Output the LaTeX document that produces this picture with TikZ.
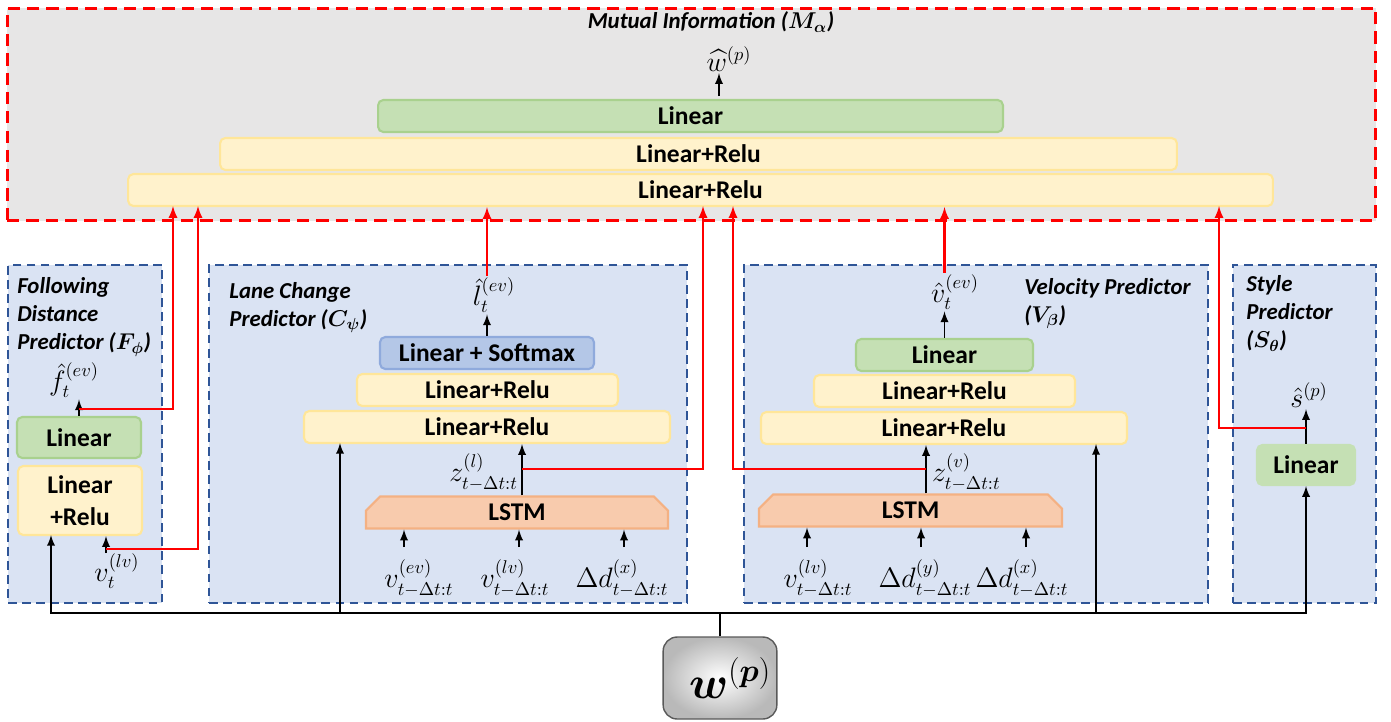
\RequirePackage{fix-cm}
\documentclass[tikz,border=0pt]{standalone}
\usepackage{amsmath}
\usepackage{fontspec}
\setmainfont{Carlito}
\usepackage{tikz}
\usetikzlibrary{shapes.misc, arrows, positioning, calc}
\DeclareMathSizes{16}{16}{10.5}{7.5}
\definecolor{migray}{HTML}{E7E6E6}
\definecolor{panelfill}{HTML}{DAE3F3}
\definecolor{paneldraw}{HTML}{2F5597}
\definecolor{relufill}{HTML}{FFF2CC}
\definecolor{reludraw}{HTML}{FFE699}
\definecolor{linfill}{HTML}{C5E0B4}
\definecolor{lindraw}{HTML}{A9D18E}
\definecolor{smaxfill}{HTML}{B4C7E7}
\definecolor{smaxdraw}{HTML}{8FAADC}
\definecolor{lstmfill}{HTML}{F8CBAD}
\definecolor{lstmdraw}{HTML}{F4B183}

\begin{document}
\begin{tikzpicture}[x=0.02cm, y=-0.02cm,
    layer/.style={rounded corners=3pt, line width=1.2pt, inner sep=0pt, minimum height=0.64cm, font=\fontsize{14.5}{18.5}\selectfont\bfseries},
    relubox/.style={layer, draw=reludraw, fill=relufill},
    linbox/.style={layer, draw=lindraw, fill=linfill},
    smaxbox/.style={layer, draw=smaxdraw, fill=smaxfill},
    lstmbox/.style={chamfered rectangle, chamfered rectangle corners={north west,north east}, chamfered rectangle xsep=0.3cm, draw=lstmdraw, fill=lstmfill, line width=1.2pt, inner sep=0pt, minimum height=0.64cm, font=\fontsize{14.5}{18.5}\selectfont\bfseries},
    panel/.style={draw=paneldraw, fill=panelfill, line width=1.6pt, dash pattern=on 5pt off 3pt, inner sep=0pt},
    mibox/.style={draw=red, fill=migray, line width=1.7pt, dash pattern=on 7pt off 4pt, inner sep=0pt},
    ptitle/.style={font=\fontsize{13}{16}\selectfont\bfseries\itshape, align=left, anchor=north west, inner sep=0pt},
    lbl/.style={font=\fontsize{16}{18}\selectfont, inner sep=1pt},
    wbox/.style={rounded corners=8pt, draw=gray!70!black, line width=0.8pt, inner color=white, outer color=gray!55, font=\fontsize{26}{30}\selectfont},
    blk/.style={line width=1.1pt, -latex},
    bus/.style={line width=1.1pt},
    redarr/.style={red, line width=1.3pt, -latex}
]
\useasboundingbox (0,0) rectangle (1391,721);

% predictor panels
\node[panel, minimum width=3.08cm, minimum height=6.76cm] (pf) at (85,434) {};
\node[panel, minimum width=9.56cm, minimum height=6.76cm] (pc) at (448,434) {};
\node[panel, minimum width=9.28cm, minimum height=6.76cm] (pv) at (976,434) {};
\node[panel, minimum width=2.86cm, minimum height=6.76cm] (ps) at (1304.5,434) {};

% mutual information block
\node[mibox, minimum width=27.38cm, minimum height=4.26cm] (mi) at (691.5,114.5) {};
\node[font=\fontsize{13}{15}\selectfont\bfseries\itshape] (mititle) at (711,22) {Mutual Information ($\boldsymbol{M_\alpha}$)};
\node[lbl] (what) at (729,59) {$\widehat{w}^{(p)}$};
\node[linbox, minimum width=12.5cm] (mlin) at (690.5,116) {Linear};
\node[relubox, minimum width=19.14cm] (mlr2) at (698.5,154) {Linear+Relu};
\node[relubox, minimum width=22.9cm] (mlr1) at (700.5,190) {Linear+Relu};
\coordinate (mout) at (719,96);
\draw[blk] (mout) -- (mout |- what.south);

% following distance predictor
\node[ptitle] (tf) at (17,277) {Following\\Distance\\Predictor ($\boldsymbol{F_\phi}$)};
\node[lbl] (fhat) at (74,380) {$\hat{f}_t^{(ev)}$};
\node[linbox, minimum width=2.48cm, minimum height=0.82cm] (flin) at (79,437.5) {Linear};
\node[relubox, minimum width=2.48cm, minimum height=1.38cm, align=center] (flr) at (80,500.5) {Linear\\+Relu};
\node[lbl] (vlv) at (117,571) {$v_t^{(lv)}$};
\draw[blk] (flin.north) -- (flin.north |- fhat.south);
\coordinate (fred) at (79,409);
\coordinate (mi1) at (173,206);
\draw[redarr] (fred) -| (mi1);
\coordinate (fin2) at (106,553);
\draw[blk] (fin2) -- (fin2 |- flr.south);
\coordinate (vred) at (106,549);
\coordinate (mi2) at (198,206);
\draw[redarr] (vred) -| (mi2);

% lane change predictor
\node[ptitle] (tc) at (229,282) {Lane Change\\Predictor ($\boldsymbol{C_\psi}$)};
\node[lbl] (lhat) at (494,295) {$\hat{l}_t^{(ev)}$};
\node[smaxbox, minimum width=4.28cm] (csm) at (487,353) {Linear + Softmax};
\node[relubox, minimum width=5.22cm] (cr2) at (487.5,390) {Linear+Relu};
\node[relubox, minimum width=7.32cm] (cr1) at (487,427) {Linear+Relu};
\node[lstmbox, minimum width=6.04cm] (clstm) at (517,512.5) {LSTM};
\node[lbl, anchor=east] (zl) at (520,472) {$z^{(l)}_{t-\Delta t:t}$};
\node[lbl] (ci1) at (419,578) {$v^{(ev)}_{t-\Delta t:t}$};
\node[lbl] (ci2) at (515,578) {$v^{(lv)}_{t-\Delta t:t}$};
\node[lbl] (ci3) at (622,578) {$\Delta d^{(x)}_{t-\Delta t:t}$};
\draw[blk] (csm.north) -- (csm.north |- lhat.south);
\draw[redarr] (lhat.north -| csm.north) -- (csm.north |- mlr1.south);
\coordinate (cz) at (522,469);
\draw[blk] (clstm.north -| cz) -- (cz |- cr1.south);
\coordinate (mi4) at (703,206);
\draw[redarr] (cz) -| (mi4);
\foreach \x [count=\i] in {404,519,624} {
    \coordinate (ca\i) at (\x,547);
    \draw[blk] (ca\i) -- (ca\i |- clstm.south);
}

% velocity predictor
\node[ptitle] (tv) at (1024,278) {Velocity Predictor\\($\boldsymbol{V_\beta}$)};
\node[lbl] (vhat) at (955,292) {$\hat{v}_t^{(ev)}$};
\node[linbox, minimum width=3.54cm] (vlin) at (944.5,355) {Linear};
\node[relubox, minimum width=5.22cm] (vr2) at (944.5,391) {Linear+Relu};
\node[relubox, minimum width=7.32cm] (vr1) at (944,428) {Linear+Relu};
\node[lstmbox, minimum width=6.06cm] (vlstm) at (910.5,510.5) {LSTM};
\node[lbl, anchor=west] (zv) at (930,472) {$z^{(v)}_{t-\Delta t:t}$};
\node[lbl] (vi1) at (818,578) {$v^{(lv)}_{t-\Delta t:t}$};
\node[lbl] (vi2) at (925,578) {$\Delta d^{(y)}_{t-\Delta t:t}$};
\node[lbl] (vi3) at (1022,578) {$\Delta d^{(x)}_{t-\Delta t:t}$};
\draw[blk] (vlin.north) -- (vlin.north |- vhat.south);
\draw[redarr] (vhat.north -| vlin.north) -- (vlin.north |- mlr1.south);
\coordinate (vz) at (926,469);
\draw[blk] (vlstm.north -| vz) -- (vz |- vr1.south);
\coordinate (mi5) at (733,206);
\draw[redarr] (vz) -| (mi5);
\foreach \x [count=\i] in {807,921,1026} {
    \coordinate (va\i) at (\x,547);
    \draw[blk] (va\i) -- (va\i |- vlstm.south);
}

% style predictor
\node[ptitle] (ts) at (1246,275) {Style\\Predictor\\($\boldsymbol{S_\theta}$)};
\node[lbl] (shat) at (1309,395) {$\hat{s}^{(p)}$};
\node[linbox, draw=linfill, minimum width=1.96cm, minimum height=0.8cm] (slin) at (1306,465) {Linear};
\draw[blk] (slin.north) -- (slin.north |- shat.south);
\coordinate (sred) at (1306,428);
\coordinate (mi7) at (1219,206);
\draw[redarr] (sred) -| (mi7);

% shared input
\node[wbox, minimum width=1.94cm, minimum height=1.64cm] (wp) at (720,678) {\hspace{0.4cm}$\boldsymbol{w}^{(\boldsymbol{p})}$};
\coordinate (bus) at (720,613);
\draw[bus] (wp.north) -- (bus);
\coordinate (fin) at (51,535);
\coordinate (cin) at (340,443);
\coordinate (vin) at (1096,444);
\draw[blk] (bus) -| (fin);
\draw[blk] (bus) -| (cin);
\draw[blk] (bus) -| (vin);
\draw[blk] (bus) -| (slin.south);
\end{tikzpicture}
\end{document}
